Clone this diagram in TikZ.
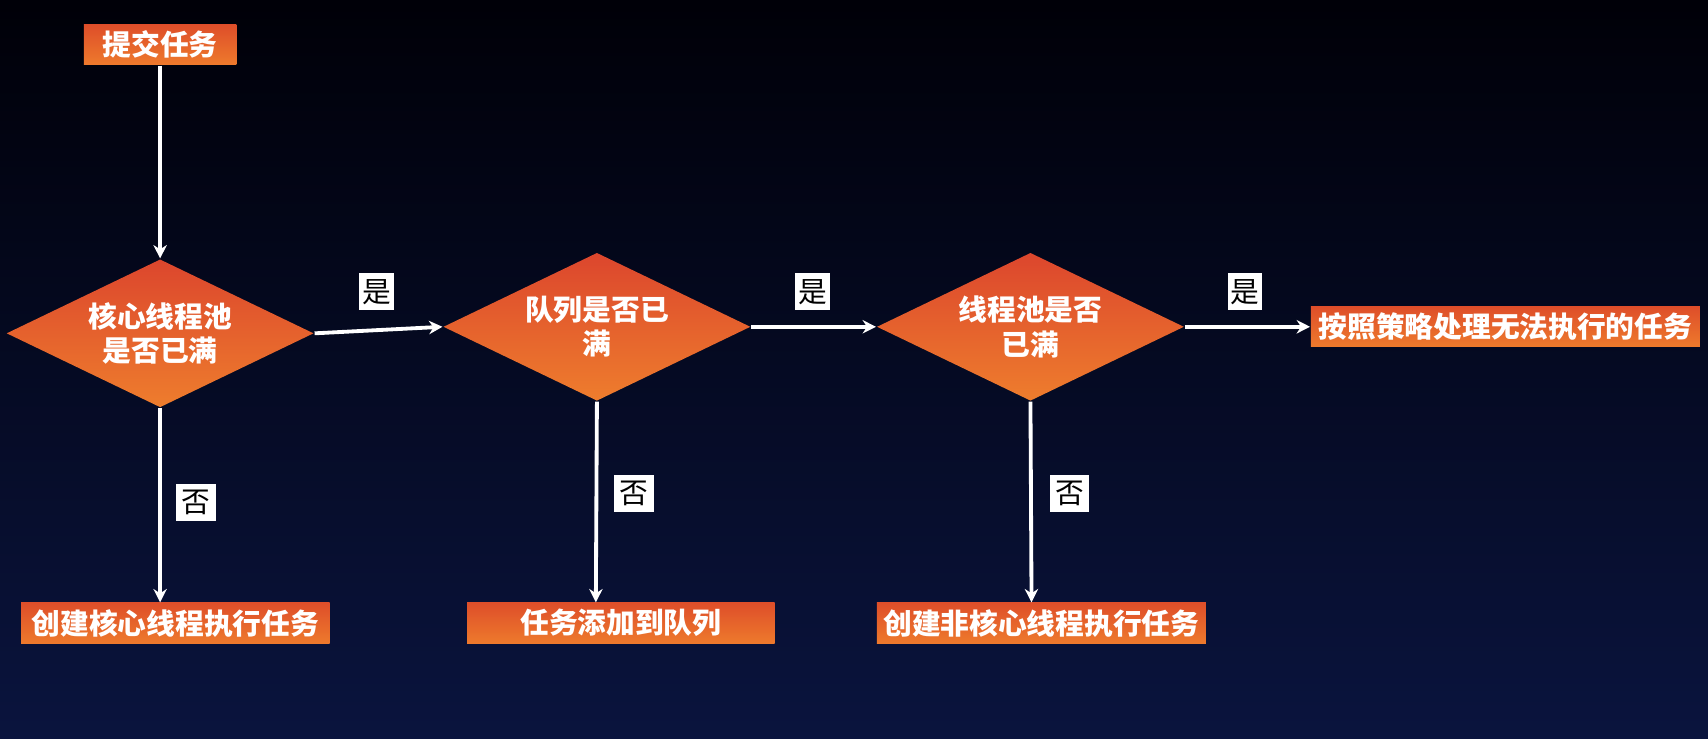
\documentclass[tikz,border=0pt]{standalone}
\usepackage{fontspec}
\setmainfont{Noto Sans CJK SC}
\usetikzlibrary{shapes.geometric,arrows.meta}
\begin{document}
\begin{tikzpicture}[x=0.01cm,y=-0.01cm,
  box/.style={rectangle,inner sep=0,top color={rgb,255:red,222;green,78;blue,42},bottom color={rgb,255:red,238;green,122;blue,44},text=white,font=\fontsize{7.5}{9}\selectfont\bfseries},
  dia/.style={diamond,inner sep=0,aspect=2.07,minimum width=2.82cm,minimum height=1.36cm,top color={rgb,255:red,220;green,70;blue,45},bottom color={rgb,255:red,238;green,125;blue,45},text=white,align=center,font=\fontsize{7.5}{9}\selectfont\bfseries},
  lab/.style={fill=white,text=black,inner sep=0,minimum width=0.32cm,minimum height=0.34cm,font=\fontsize{7.5}{8}\selectfont},
  arr/.style={draw=white,line width=1pt,-{Stealth[length=3.5pt,width=3.5pt]}}]
\shade[top color=black!97!blue, bottom color={rgb,255:red,10;green,20;blue,62}] (0,0) rectangle (1568,678);
\useasboundingbox (0,0) rectangle (1568,678);
\node[box,minimum width=1.40cm,minimum height=0.37cm] (s) at (147,41) {提交任务};
\node[dia] (d1) at (147,306) {核心线程池\\是否已满};
\node[dia] (d2) at (548,300) {队列是否已\\满};
\node[dia] (d3) at (946,300) {线程池是否\\已满};
\node[box,minimum width=3.57cm,minimum height=0.37cm] (f) at (1382,300) {按照策略处理无法执行的任务};
\node[box,minimum width=2.83cm,minimum height=0.38cm] (b1) at (161,572) {创建核心线程执行任务};
\node[box,minimum width=2.82cm,minimum height=0.38cm] (b2) at (570,572) {任务添加到队列};
\node[box,minimum width=3.02cm,minimum height=0.38cm] (b3) at (956,572) {创建非核心线程执行任务};
\coordinate (t1) at (147,553);
\coordinate (t2) at (547,553);
\coordinate (t3) at (947,553);
\draw[arr] (s.south) -- (d1.north);
\draw[arr] (d1.east) -- (d2.west);
\draw[arr] (d2.east) -- (d3.west);
\draw[arr] (d3.east) -- (f.west);
\draw[arr] (d1.south) -- (t1);
\draw[arr] (d2.south) -- (t2);
\draw[arr] (d3.south) -- (t3);
\node[lab] (y1) at (346,268) {是};
\node[lab] (y2) at (746,268) {是};
\node[lab] (y3) at (1143,268) {是};
\node[lab,minimum width=0.36cm] (n1) at (180,461) {否};
\node[lab,minimum width=0.36cm] (n2) at (582,453) {否};
\node[lab,minimum width=0.36cm] (n3) at (982,453) {否};
\end{tikzpicture}
\end{document}
